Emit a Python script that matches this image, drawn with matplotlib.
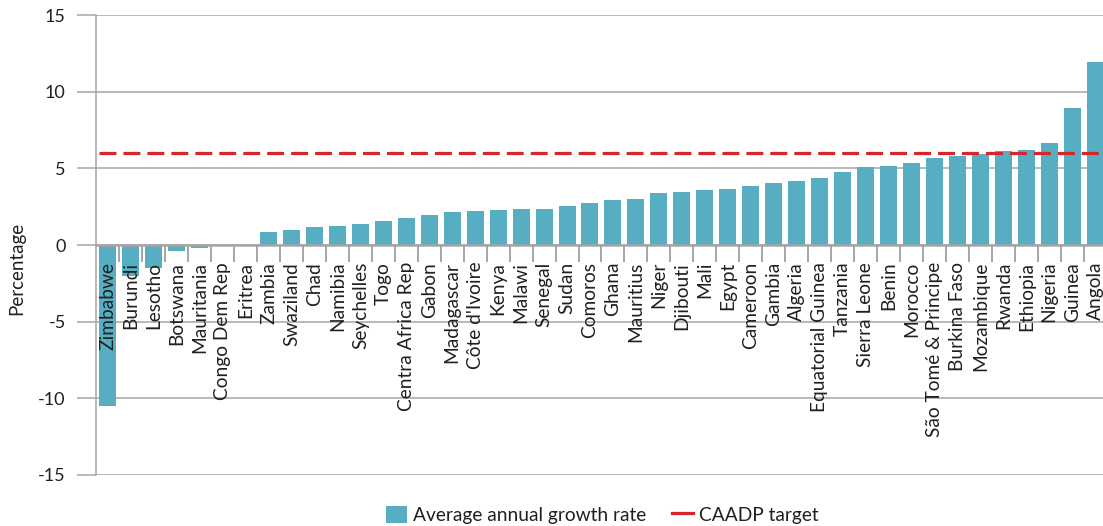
import matplotlib
matplotlib.use("Agg")
import matplotlib.pyplot as plt
from matplotlib.patches import Patch
from matplotlib.lines import Line2D

plt.rcParams["font.family"] = ["Lato", "DejaVu Sans"]
plt.rcParams["axes.unicode_minus"] = False

# Average annual agricultural growth rate by country (%)
countries = [
    "Zimbabwe", "Burundi", "Lesotho", "Botswana", "Mauritania", "Congo Dem Rep",
    "Eritrea", "Zambia", "Swaziland", "Chad", "Namibia", "Seychelles", "Togo",
    "Centra Africa Rep", "Gabon", "Madagascar", "Côte d'Ivoire", "Kenya",
    "Malawi", "Senegal", "Sudan", "Comoros", "Ghana", "Mauritius", "Niger",
    "Djibouti", "Mali", "Egypt", "Cameroon", "Gambia", "Algeria",
    "Equatorial Guinea", "Tanzania", "Sierra Leone", "Benin", "Morocco",
    "São Tomé & Principe", "Burkina Faso", "Mozambique", "Rwanda", "Ethiopia",
    "Nigeria", "Guinea", "Angola",
]
growth = [
    -10.5, -2.0, -1.5, -0.4, -0.2, -0.08,
    0.0, 0.85, 1.0, 1.17, 1.24, 1.37, 1.57,
    1.76, 1.96, 2.15, 2.22, 2.28,
    2.35, 2.35, 2.54, 2.74, 2.93, 3.0, 3.39,
    3.46, 3.59, 3.65, 3.85, 4.04, 4.17,
    4.37, 4.76, 5.09, 5.15, 5.35,
    5.67, 5.8, 5.93, 6.13, 6.2,
    6.65, 8.94, 11.94,
]
caadp_target = 6
yticks = [-15, -10, -5, 0, 5, 10, 15]

bar_color = "#57aec3"
red = "#d7262b"
grey = "#a6a6a6"
text_color = "#231f20"

fig = plt.figure(figsize=(11.03, 5.26), dpi=100)
ax = fig.add_axes([0.0873, 0.097, 0.916, 0.874])

# gridlines behind the bars, axis labels in front of them
for y in yticks:
    ax.axhline(y, color=grey, lw=1.1, zorder=0.5)
ax.set_axisbelow(False)

x = list(range(len(countries)))
ax.bar(x, growth, width=0.74, color=bar_color, zorder=2)
ax.plot([-0.37, len(countries) - 0.5], [caadp_target, caadp_target],
        color=red, lw=2.3, dashes=(5.3, 2.2), zorder=3)

ax.set_xlim(-0.5, len(countries) - 0.5)
ax.set_ylim(-15, 15)
ax.set_yticks(yticks)
ax.tick_params(axis="y", length=14, width=1.1, color=grey, pad=8,
               labelsize=13, labelcolor=text_color)

# categories sit on the zero line, tick marks between bars
ax.spines["bottom"].set_position(("data", 0))
ax.spines["bottom"].set_color(grey)
ax.spines["bottom"].set_linewidth(1.8)
ax.spines["left"].set_color(grey)
ax.spines["left"].set_linewidth(1.1)
ax.spines["top"].set_visible(False)
ax.spines["right"].set_visible(False)
ax.set_xticks(x)
ax.set_xticklabels(countries, rotation=90, fontsize=13.8, color=text_color)
ax.set_xticks([i + 0.5 for i in x[:-1]], minor=True)
ax.tick_params(axis="x", which="major", length=0, pad=12)
ax.tick_params(axis="x", which="minor", length=12, width=1.4, color=grey)

ax.set_ylabel("Percentage", fontsize=13.5, color=text_color)
ax.yaxis.set_label_coords(-0.07, 0.45)

handles = [
    Patch(facecolor=bar_color, label="Average annual growth rate"),
    Line2D([0], [0], color=red, lw=2.3, label="CAADP target"),
]
fig.legend(handles=handles, loc="center", bbox_to_anchor=(0.546, 0.021), ncol=2,
           frameon=False, fontsize=13.8, handlelength=1.1, handleheight=1.0,
           handletextpad=0.35, columnspacing=1.3, labelcolor=text_color)

fig.savefig("out.png", dpi=100)
